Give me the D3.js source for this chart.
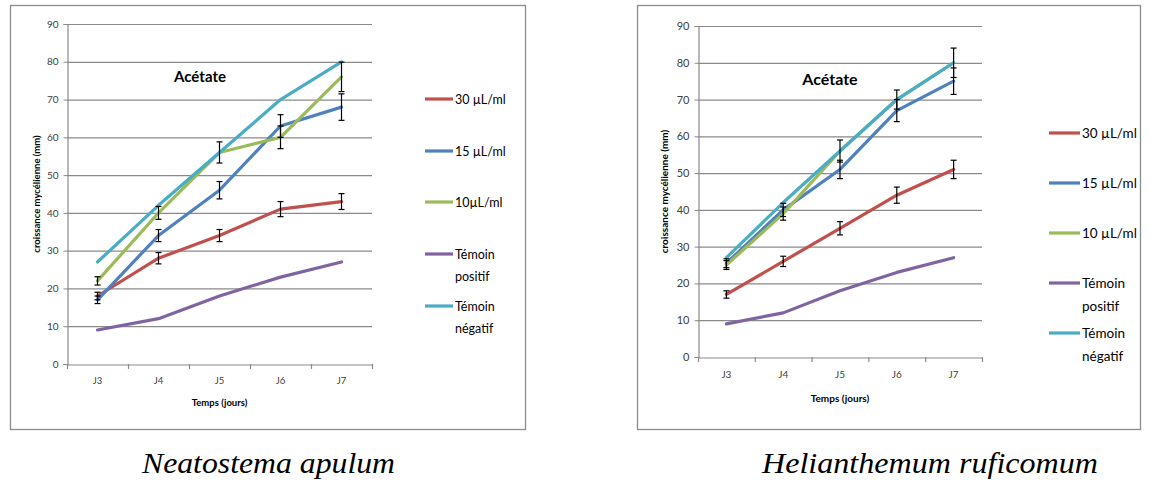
<!DOCTYPE html>
<html><head><meta charset="utf-8">
<script src="https://cdn.jsdelivr.net/npm/d3@7"></script>
<style>
body{margin:0;background:#fff;}
svg{display:block;}
</style></head>
<body>
<svg id="c" width="1150" height="484"></svg>
<script>
// ---------- DATA ----------
const categories = ["J3","J4","J5","J6","J7"];
const yTicks = [0,10,20,30,40,50,60,70,80,90];
const seriesNames = ["30 µL/ml","15 µL/ml","10µL/ml","Témoin positif","Témoin négatif"];
const seriesNamesRight = ["30 µL/ml","15 µL/ml","10 µL/ml","Témoin positif","Témoin négatif"];
const seriesColors = ["#C0504D","#4F81BD","#9BBB59","#8064A2","#4BACC6"];

// Neatostema apulum
const leftRed    = [18, 28, 34, 41, 43];
const leftRedErr = [1, 1.5, 1.6, 2, 2.1];
const leftBlue   = [17, 34, 46, 63, 68];
const leftBlueErr= [1, 1.6, 2.3, 3, 3.5];
const leftGreen  = [22, 40, 56, 60, 76];
const leftGreenErr=[1.1, 1.7, 2.8, 3, 3.9];
const leftPurple = [9, 12, 18, 23, 27];
const leftCyan   = [27, 42, 56, 70, 80];

// Helianthemum ruficomum
const rightRed    = [17, 26, 35, 44, 51];
const rightRedErr = [1, 1.4, 1.8, 2.2, 2.5];
const rightBlue   = [25.5, 40, 51, 67, 75];
const rightBlueErr= [1.2, 1.8, 2.5, 3, 3.6];
const rightGreen  = [25, 39, 56, 70, 80];
const rightGreenErr=[1.2, 1.8, 3, 2.6, 4];
const rightPurple = [9, 12, 18, 23, 27];
const rightCyan   = [27, 42, 56, 70, 80];

const titleText = "Acétate";
const xAxisTitle = "Temps (jours)";
const yAxisTitle = "croissance mycélienne (mm)";
const captions = ["Neatostema apulum","Helianthemum ruficomum"];

// ---------- DRAW ----------
const svg = d3.select("#c");
const FONT = "Lato, 'Open Sans', sans-serif";

function drawChart(cfg){
  const g = svg.append("g");
  // frame
  g.append("rect").attr("x",cfg.frame[0]+0.5).attr("y",cfg.frame[1]+0.5)
    .attr("width",cfg.frame[2]-cfg.frame[0]).attr("height",cfg.frame[3]-cfg.frame[1])
    .attr("fill","#fff").attr("stroke","#8c8c8c").attr("stroke-width",1.3);

  const x = d3.scaleBand().domain(categories).range([cfg.plot.x0,cfg.plot.x1]);
  const y = d3.scaleLinear().domain([0,90]).range([cfg.plot.y0,cfg.plot.y1]);

  // gridlines
  g.selectAll(".grid").data(yTicks.filter(t=>t>0)).enter().append("line")
    .attr("x1",cfg.plot.x0).attr("x2",cfg.plot.x1)
    .attr("y1",d=>y(d)+0.5).attr("y2",d=>y(d)+0.5)
    .attr("stroke","#8a8a8a").attr("stroke-width",1.2);

  // y axis
  const ya = g.append("g").attr("transform",`translate(${cfg.plot.x0+0.5},0)`)
    .call(d3.axisLeft(y).tickValues(yTicks).tickSize(4).tickPadding(5));
  ya.select(".domain").attr("stroke","#8a8a8a").attr("stroke-width",1.2);
  ya.selectAll(".tick line").attr("stroke","#8a8a8a");
  ya.selectAll("text").attr("font-family",FONT).attr("font-size",cfg.yfs).attr("fill","#404040");

  // x axis
  const xa = g.append("g").attr("transform",`translate(0,${cfg.plot.y0+0.5})`)
    .call(d3.axisBottom(x).tickSize(0).tickPadding(cfg.xpad));
  xa.select(".domain").attr("stroke","#8a8a8a").attr("stroke-width",1.2);
  xa.selectAll("text").attr("font-family",FONT).attr("font-size",cfg.xfs).attr("fill","#404040");
  // x tick marks at band boundaries
  const bounds = categories.map(c=>x(c)).concat([x.range()[1]]);
  g.selectAll(".xt").data(bounds).enter().append("line")
    .attr("x1",d=>d+0.5).attr("x2",d=>d+0.5)
    .attr("y1",cfg.plot.y0).attr("y2",cfg.plot.y0+5)
    .attr("stroke","#8a8a8a").attr("stroke-width",1.2);

  const cx = c=>x(c)+x.bandwidth()/2;
  const line = d3.line().x((d,i)=>cx(categories[i])).y(d=>y(d));

  const order = [3,0,1,2,4];
  order.forEach(i=>{
    g.append("path").datum(cfg.series[i]).attr("d",line)
      .attr("fill","none").attr("stroke",seriesColors[i]).attr("stroke-width",3.2)
      .attr("stroke-linejoin","round").attr("stroke-linecap","round");
  });
  // error bars
  cfg.errs.forEach((e,k)=>{
    if(!e) return;
    const vals = cfg.series[k];
    e.forEach((err,i)=>{
      const xx = cx(categories[i]), lo=y(vals[i]-err), hi=y(vals[i]+err);
      g.append("line").attr("x1",xx).attr("x2",xx).attr("y1",lo).attr("y2",hi)
        .attr("stroke","#000").attr("stroke-width",1.2);
      [lo,hi].forEach(yy=>g.append("line").attr("x1",xx-3).attr("x2",xx+3)
        .attr("y1",yy).attr("y2",yy).attr("stroke","#000").attr("stroke-width",1.2));
    });
  });

  // title
  g.append("text").attr("x",cfg.title[0]).attr("y",cfg.title[1]).attr("text-anchor","middle")
    .attr("dominant-baseline","central").attr("font-family",FONT).attr("font-weight","bold")
    .attr("font-size",cfg.tfs).attr("fill","#000").text(titleText);
  // axis titles
  g.append("text").attr("x",(cfg.plot.x0+cfg.plot.x1)/2).attr("y",cfg.xtitleY)
    .attr("text-anchor","middle").attr("dominant-baseline","central")
    .attr("font-family",FONT).attr("font-weight","bold").attr("font-size",cfg.atfs)
    .attr("fill","#000").text(xAxisTitle);
  g.append("text").attr("transform",`translate(${cfg.ytitleX},${(cfg.plot.y0+cfg.plot.y1)/2}) rotate(-90)`)
    .attr("text-anchor","middle").attr("dominant-baseline","central")
    .attr("font-family",FONT).attr("font-weight","bold").attr("font-size",cfg.atfs)
    .attr("fill","#000").text(yAxisTitle);

  // legend
  cfg.legendNames.forEach((name,i)=>{
    const ly = cfg.legend.ys[i];
    g.append("line").attr("x1",cfg.legend.x0).attr("x2",cfg.legend.x1)
      .attr("y1",ly).attr("y2",ly).attr("stroke",seriesColors[i]).attr("stroke-width",3.2);
    const parts = name.startsWith("Témoin") ? name.split(" ") : [name];
    const t = g.append("text").attr("font-family",FONT).attr("font-size",cfg.lfs).attr("fill","#000");
    parts.forEach((p,j)=>t.append("tspan").attr("x",cfg.legend.x1+2)
      .attr("y",ly+j*cfg.legend.lh).attr("dominant-baseline","central").text(p));
  });
}

drawChart({
  frame:[10,5,525,429],
  plot:{x0:67,x1:372,y0:364,y1:24},
  series:[leftRed,leftBlue,leftGreen,leftPurple,leftCyan],
  errs:[leftRedErr,leftBlueErr,leftGreenErr,null,null],
  title:[200,76], tfs:15, yfs:10, xfs:9.5, xpad:13, atfs:9.5,
  xtitleY:402, ytitleX:36,
  legendNames:seriesNames,
  legend:{x0:425,x1:453,ys:[99,151,202,254,306],lh:22},
  lfs:12.5
});
drawChart({
  frame:[637,5,1140,429],
  plot:{x0:698,x1:982,y0:357,y1:26},
  series:[rightRed,rightBlue,rightGreen,rightPurple,rightCyan],
  errs:[rightRedErr,rightBlueErr,rightGreenErr,null,null],
  title:[830,78], tfs:16, yfs:11, xfs:10, xpad:13, atfs:10,
  xtitleY:398, ytitleX:664,
  legendNames:seriesNamesRight,
  legend:{x0:1049,x1:1080,ys:[133,183,233,283,333],lh:23},
  lfs:13.5
});

// captions
const capX = [268.5, 930];
const capW = [253, 336];
captions.forEach((c,i)=>{
  svg.append("text").attr("x",capX[i]).attr("y",473).attr("text-anchor","middle")
    .attr("font-family","'Liberation Serif', 'DejaVu Serif', serif")
    .attr("font-style","italic").attr("font-size",30).attr("fill","#000")
    .attr("textLength", capW[i]).attr("lengthAdjust","spacingAndGlyphs")
    .text(c);
});
</script>
</body></html>
